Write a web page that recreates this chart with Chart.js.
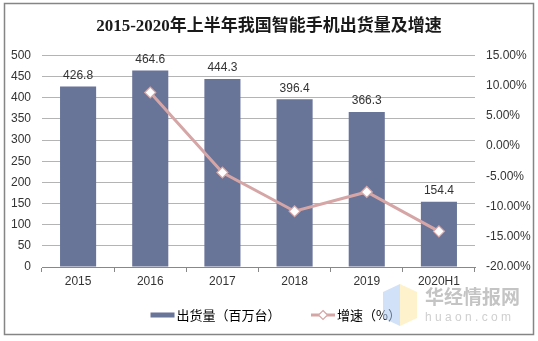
<!DOCTYPE html>
<html>
<head>
    <meta charset="utf-8">
    <title>2015-2020年上半年我国智能手机出货量及增速</title>
    <script src="https://cdn.jsdelivr.net/npm/chart.js"></script>
    <style>
        html, body { margin: 0; padding: 0; background: #fff; }
        #wrap { position: relative; width: 538px; height: 341px; }
    </style>
</head>
<body>
    <div id="wrap">
        <canvas id="chart" width="538" height="341"></canvas>
    </div>

    <script>
        // data
        var years = ['2015', '2016', '2017', '2018', '2019', '2020H1'];
        var shipments = [426.8, 464.6, 444.3, 396.4, 366.3, 154.4];   // 百万台
        var growth = [null, 8.86, -4.37, -10.78, -7.59, -14.1];        // %
        var leftRange = [0, 500, 50];
        var rightRange = [-20, 15, 5];

        var barColor = '#687498';
        var lineColor = '#d6a6a6';
        var tickFont = { family: "'Liberation Sans', Arial, sans-serif", size: 12 };
        var cjkFont = "'Noto Sans CJK SC', sans-serif";
        var legendBox = 33;

        // frame, bar value labels, legend icons, watermark
        var extras = {
            id: 'extras',
            beforeDraw: function (chart) {
                var ctx = chart.ctx;
                ctx.save();
                ctx.fillStyle = '#fff';
                ctx.fillRect(0, 0, chart.width, chart.height);
                ctx.strokeStyle = '#858585';
                ctx.lineWidth = 1.5;
                ctx.strokeRect(4.5, 3.5, 529, 331);
                ctx.restore();
            },
            afterDatasetsDraw: function (chart) {
                var ctx = chart.ctx;
                var meta = chart.getDatasetMeta(0);
                ctx.save();
                ctx.font = '12px ' + tickFont.family;
                ctx.fillStyle = '#333';
                ctx.textAlign = 'center';
                ctx.textBaseline = 'bottom';
                meta.data.forEach(function (bar, i) {
                    ctx.fillText(shipments[i].toFixed(1), bar.x, bar.y - 5);
                });
                ctx.restore();
            },
            afterDraw: function (chart) {
                var ctx = chart.ctx;
                var boxes = chart.legend.legendHitBoxes;
                ctx.save();
                boxes.forEach(function (b, i) {
                    var cy = b.top + b.height / 2;
                    var x1 = b.left + legendBox + 6.5 - 2;
                    var x0 = x1 - 24;
                    if (i === 0) {
                        ctx.fillStyle = barColor;
                        ctx.fillRect(x0, cy - 2.5, 24, 5);
                    } else {
                        ctx.strokeStyle = lineColor;
                        ctx.lineWidth = 3;
                        ctx.beginPath();
                        ctx.moveTo(x0, cy);
                        ctx.lineTo(x1, cy);
                        ctx.stroke();
                        var cx = (x0 + x1) / 2;
                        ctx.fillStyle = '#fff';
                        ctx.lineWidth = 1.2;
                        ctx.beginPath();
                        ctx.moveTo(cx, cy - 4.5);
                        ctx.lineTo(cx + 4.5, cy);
                        ctx.lineTo(cx, cy + 4.5);
                        ctx.lineTo(cx - 4.5, cy);
                        ctx.closePath();
                        ctx.fill();
                        ctx.stroke();
                    }
                });

                // watermark
                ctx.globalAlpha = 0.55;
                ctx.fillStyle = '#a9c9f2';
                ctx.beginPath();
                ctx.moveTo(383, 292); ctx.lineTo(400, 284); ctx.lineTo(400, 326); ctx.lineTo(383, 318);
                ctx.closePath(); ctx.fill();
                ctx.fillStyle = '#fbe7a0';
                ctx.beginPath();
                ctx.moveTo(400, 284); ctx.lineTo(417, 292); ctx.lineTo(417, 318); ctx.lineTo(400, 326);
                ctx.closePath(); ctx.fill();
                ctx.globalAlpha = 1;
                ctx.fillStyle = '#c4c4c4';
                ctx.font = 'bold 19px ' + cjkFont;
                ctx.textAlign = 'left';
                ctx.textBaseline = 'middle';
                ctx.fillText('华经情报网', 425, 297);
                ctx.font = '12px ' + tickFont.family;
                ctx.fillStyle = '#cfcfcf';
                ctx.fillText('h u a o n . c o m', 425, 318);
                ctx.restore();
            }
        };

        var chart = new Chart(document.getElementById('chart').getContext('2d'), {
            type: 'bar',
            data: {
                labels: years,
                datasets: [{
                    type: 'bar',
                    label: '出货量（百万台）',
                    data: shipments,
                    backgroundColor: barColor,
                    barPercentage: 0.5,
                    categoryPercentage: 1,
                    yAxisID: 'y',
                    order: 2
                }, {
                    type: 'line',
                    label: '增速（%）',
                    data: growth,
                    borderColor: lineColor,
                    borderWidth: 3,
                    pointStyle: 'rectRot',
                    pointRadius: 5.5,
                    pointBackgroundColor: '#fff',
                    pointBorderColor: lineColor,
                    pointBorderWidth: 1.2,
                    tension: 0,
                    yAxisID: 'y1',
                    order: 1
                }]
            },
            options: {
                responsive: false,
                animation: false,
                layout: { padding: { left: 0, right: 0, top: 0, bottom: 9.5 } },
                plugins: {
                    tooltip: { enabled: false },
                    title: {
                        display: true,
                        text: '2015-2020年上半年我国智能手机出货量及增速',
                        color: '#1a1a1a',
                        font: { family: "'Liberation Serif', " + cjkFont, size: 17, weight: 'bold' },
                        padding: { top: 16, bottom: 19 }
                    },
                    legend: {
                        position: 'bottom',
                        labels: {
                            boxWidth: legendBox,
                            boxHeight: 6,
                            padding: 17,
                            color: '#222',
                            font: { family: cjkFont, size: 13 },
                            generateLabels: function (chart) {
                                return chart.data.datasets.map(function (ds, i) {
                                    return {
                                        text: ds.label,
                                        fillStyle: 'rgba(0,0,0,0)',
                                        strokeStyle: 'rgba(0,0,0,0)',
                                        lineWidth: 0,
                                        datasetIndex: i
                                    };
                                });
                            }
                        }
                    }
                },
                scales: {
                    x: {
                        offset: true,
                        grid: { display: true, drawOnChartArea: false, drawTicks: true, tickLength: 5, color: '#888' },
                        border: { display: true, color: '#888' },
                        ticks: { color: '#333', font: tickFont, padding: 2 },
                        afterFit: function (s) { s.height = 24.5; }
                    },
                    y: {
                        position: 'left',
                        min: leftRange[0],
                        max: leftRange[1],
                        ticks: { stepSize: leftRange[2], color: '#333', font: tickFont, padding: 11 },
                        grid: { color: '#b4b4b4', drawTicks: false },
                        border: { display: false },
                        afterFit: function (s) { s.width = 42; }
                    },
                    y1: {
                        position: 'right',
                        min: rightRange[0],
                        max: rightRange[1],
                        ticks: {
                            stepSize: rightRange[2], color: '#333', font: tickFont, padding: 11,
                            callback: function (v) { return v.toFixed(2) + '%'; }
                        },
                        grid: { display: false, drawTicks: false },
                        border: { display: false },
                        afterFit: function (s) { s.width = 63; }
                    }
                }
            },
            plugins: [extras]
        });
    </script>
</body>
</html>
